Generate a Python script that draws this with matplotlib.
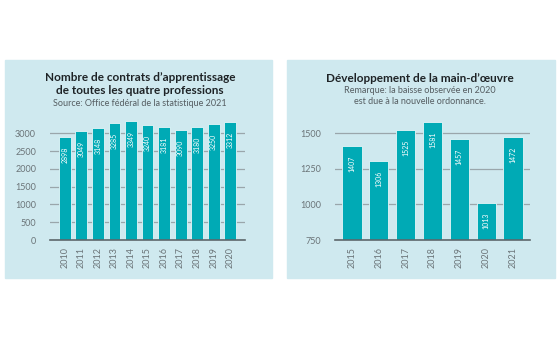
import matplotlib
matplotlib.use("Agg")
import matplotlib.pyplot as plt
from matplotlib.patches import Rectangle

plt.rcParams["font.family"] = ["Lato", "DejaVu Sans"]

# left chart data
years_left = ["2010", "2011", "2012", "2013", "2014", "2015",
              "2016", "2017", "2018", "2019", "2020"]
contracts = [2898, 3049, 3148, 3285, 3349, 3240, 3181, 3090, 3180, 3250, 3312]

# right chart data
years_right = ["2015", "2016", "2017", "2018", "2019", "2020", "2021"]
workforce = [1407, 1306, 1525, 1581, 1457, 1013, 1472]

panel_bg = "#cfe9ef"
bar_color = "#00aab5"
grid_color = "#9aa6ab"
tick_color = "#6b7478"


def draw_bars(ax, labels, values, ymin, ymax, ticks, pad_x):
    x = range(len(values))
    ax.bar(x, [v - ymin for v in values], bottom=ymin, width=0.72,
           color=bar_color, edgecolor="#e6f6f8", linewidth=0.6, zorder=3)
    for i, v in enumerate(values):
        ax.annotate(str(v), (i, v), xytext=(0, -7), textcoords="offset points",
                    rotation=90, ha="center", va="top", color="white",
                    fontsize=5, zorder=4)
    ax.set_ylim(ymin, ymax)
    ax.set_xlim(-pad_x, len(values) - 1 + pad_x)
    ax.set_yticks(ticks)
    ax.set_xticks(list(x))
    ax.set_xticklabels(labels, rotation=90)
    ax.tick_params(axis="x", length=0, labelsize=6.5, colors=tick_color, pad=5)
    ax.tick_params(axis="y", length=0, labelsize=6.5, colors=tick_color, pad=10)
    ax.set_facecolor("none")
    ax.grid(axis="y", color=grid_color, linewidth=0.9, zorder=0)
    for s in ["top", "right", "left"]:
        ax.spines[s].set_visible(False)
    ax.spines["bottom"].set_color("#5d676b")
    ax.spines["bottom"].set_linewidth(1.2)
    ax.spines["bottom"].set_zorder(5)


fig = plt.figure(figsize=(5.6, 3.38), dpi=100)
fig.patch.set_facecolor("white")

fig.patches.append(Rectangle((5 / 560, 60 / 338), 267 / 560, 218 / 338,
                             transform=fig.transFigure, color=panel_bg, zorder=-5))
fig.patches.append(Rectangle((287 / 560, 60 / 338), 268 / 560, 218 / 338,
                             transform=fig.transFigure, color=panel_bg, zorder=-5))

ax1 = fig.add_axes([50 / 560, 98 / 338, 195 / 560, 121 / 338])
draw_bars(ax1, years_left, contracts, 0, 3400,
          [0, 500, 1000, 1500, 2000, 2500, 3000], 0.9)

ax2 = fig.add_axes([335 / 560, 98 / 338, 195 / 560, 121 / 338])
draw_bars(ax2, years_right, workforce, 750, 1600, [750, 1000, 1250, 1500], 0.63)

fig.text(140 / 560, 1 - 84 / 338, "Nombre de contrats d\u2019apprentissage\nde toutes les quatre professions",
         ha="center", va="center", fontsize=8.5, fontweight="bold", color="#1e2326",
         linespacing=1.3)
fig.text(140 / 560, 1 - 104 / 338, "Source: Office f\u00e9d\u00e9ral de la statistique 2021",
         ha="center", va="center", fontsize=6.5, color="#555d61")

fig.text(420 / 560, 1 - 78 / 338, "D\u00e9veloppement de la main-d\u2019\u0153uvre",
         ha="center", va="center", fontsize=8.5, fontweight="bold", color="#1e2326")
fig.text(420 / 560, 1 - 96 / 338,
         "Remarque: la baisse observ\u00e9e en 2020\nest due \u00e0 la nouvelle ordonnance.",
         ha="center", va="center", fontsize=6.5, color="#555d61", linespacing=1.25)

fig.savefig("out.png", dpi=100, facecolor="white")
